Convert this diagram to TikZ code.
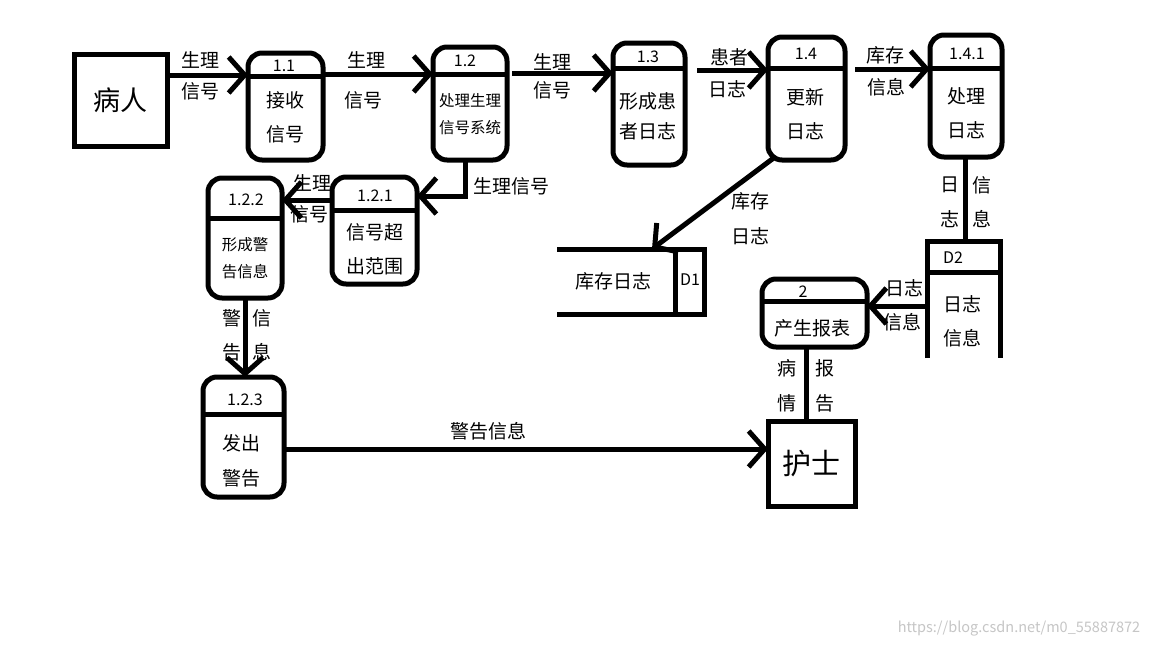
\documentclass[tikz,border=0pt]{standalone}
\usepackage{fontspec}
\setmainfont{Noto Sans CJK SC}
\usetikzlibrary{arrows.meta}
\tikzset{
  ln/.style={line width=5pt},
  arr/.style={line width=5pt,-{Straight Barb[length=16pt,width=36pt]}},
  proc/.style={draw,line width=5pt,rounded corners=14pt,inner sep=0pt,outer sep=0pt,anchor=north west},
  ext/.style={draw,line width=5pt,inner sep=0pt,outer sep=0pt,anchor=north west},
  lab/.style={font=\fontsize{19}{22}\selectfont,inner sep=0pt},
  sml/.style={font=\fontsize{15.5}{18}\selectfont,inner sep=0pt},
  num/.style={font=\fontsize{16}{18}\selectfont,inner sep=0pt},
}
\begin{document}
\begin{tikzpicture}[x=1pt,y=-1pt]
\useasboundingbox[fill=white] (0,0) rectangle (1152,648);

% external entities
\node[ext,minimum width=93pt,minimum height=92pt] (bingren) at (74,54) {};
\node[font=\fontsize{27}{30}\selectfont,inner sep=0pt] (bingrent) at (bingren.center) {病人};
\node[ext,minimum width=87pt,minimum height=85pt] (hushi) at (768,421) {};
\node[font=\fontsize{29}{32}\selectfont,inner sep=0pt] (hushit) at (hushi.center) {护士};

% process 1.1
\node[proc,minimum width=75pt,minimum height=107pt] (p11) at (248,53) {};
\draw[ln] (p11.west |- 0,76) -- (p11.east |- 0,76);
\node[num] (p11n) at (284,66) {1.1};
\node[lab] (p11a) at (285,100) {接收};
\node[lab] (p11b) at (285,134) {信号};

% process 1.2
\node[proc,minimum width=74pt,minimum height=113pt] (p12) at (433,47) {};
\draw[ln] (p12.west |- 0,74) -- (p12.east |- 0,74);
\node[num] (p12n) at (465,61) {1.2};
\node[sml] (p12a) at (470,101) {处理生理};
\node[sml] (p12b) at (470,128) {信号系统};

% process 1.3
\node[proc,minimum width=72pt,minimum height=122pt] (p13) at (613,43) {};
\draw[ln] (p13.west |- 0,68) -- (p13.east |- 0,68);
\node[num] (p13n) at (648,57) {1.3};
\node[lab] (p13a) at (648,101) {形成患};
\node[lab] (p13b) at (648,131) {者日志};

% process 1.4
\node[proc,minimum width=77pt,minimum height=123pt] (p14) at (768,37) {};
\draw[ln] (p14.west |- 0,68) -- (p14.east |- 0,68);
\node[num] (p14n) at (806,54) {1.4};
\node[lab] (p14a) at (805,97) {更新};
\node[lab] (p14b) at (805,131) {日志};

% process 1.4.1
\node[proc,minimum width=72pt,minimum height=122pt] (p141) at (930,35) {};
\draw[ln] (p141.west |- 0,68) -- (p141.east |- 0,68);
\node[num] (p141n) at (967,54) {1.4.1};
\node[lab] (p141a) at (966,96) {处理};
\node[lab] (p141b) at (966,130) {日志};

% process 1.2.1
\node[proc,minimum width=85pt,minimum height=107pt] (p121) at (332,177) {};
\draw[ln] (p121.west |- 0,210) -- (p121.east |- 0,210);
\node[num] (p121n) at (375,196) {1.2.1};
\node[lab] (p121a) at (375,232) {信号超};
\node[lab] (p121b) at (375,266) {出范围};

% process 1.2.2
\node[proc,minimum width=74pt,minimum height=120pt] (p122) at (208,178) {};
\draw[ln] (p122.west |- 0,218) -- (p122.east |- 0,218);
\node[num] (p122n) at (246,200) {1.2.2};
\node[sml] (p122a) at (245,245) {形成警};
\node[sml] (p122b) at (245,272) {告信息};

% process 1.2.3
\node[proc,minimum width=81pt,minimum height=120pt] (p123) at (203,377) {};
\draw[ln] (p123.west |- 0,414) -- (p123.east |- 0,414);
\node[num] (p123n) at (245,400) {1.2.3};
\node[lab] (p123a) at (241,443) {发出};
\node[lab] (p123b) at (241,478) {警告};

% process 2
\node[proc,minimum width=105pt,minimum height=68pt] (p2) at (762,279) {};
\draw[ln] (p2.west |- 0,301) -- (p2.east |- 0,301);
\node[num] (p2n) at (803,292) {2};
\node[lab] (p2a) at (812,328) {产生报表};

% data store D1
\coordinate (d1tl) at (557,249);
\coordinate (d1tr) at (704,249);
\coordinate (d1bl) at (557,314);
\coordinate (d1br) at (704,314);
\coordinate (d1top) at (652,249);
\draw[ln] (d1tl) -- (d1tr) -- (d1br) -- (d1bl);
\draw[ln] (675,249) -- (675,314);
\node[lab] (d1t) at (613,281) {库存日志};
\node[num] (d1n) at (690,280) {D1};

% data store D2
\coordinate (d2bl) at (927,358);
\coordinate (d2tl) at (927,241);
\coordinate (d2tr) at (1000,241);
\coordinate (d2br) at (1000,358);
\coordinate (d2top) at (965,241);
\coordinate (d2left) at (927,306);
\draw[ln] (d2bl) -- (d2tl) -- (d2tr) -- (d2br);
\draw[ln] (927,272) -- (1000,272);
\node[num] (d2n) at (953,258) {D2};
\node[lab] (d2a) at (962,304) {日志};
\node[lab] (d2b) at (962,338) {信息};

% connectors
\draw[arr] (bingren.east |- 0,75) -- (p11.west |- 0,75);
\node[lab] (l1a) at (200,60) {生理};
\node[lab] (l1b) at (200,91) {信号};

\draw[arr] (p11.east |- 0,74) -- (p12.west |- 0,74);
\node[lab] (l2a) at (366,60) {生理};
\node[lab] (l2b) at (363,100) {信号};

\draw[arr,shorten <=5pt] (p12.east |- 0,73) -- (p13.west |- 0,73);
\node[lab] (l3a) at (552,62) {生理};
\node[lab] (l3b) at (552,90) {信号};

\draw[arr,shorten <=12pt] (p13.east |- 0,70) -- (p14.west |- 0,70);
\node[lab] (l4a) at (729,57) {患者};
\node[lab] (l4b) at (727,89) {日志};

\draw[arr,shorten <=10pt] (p14.east |- 0,69) -- (p141.west |- 0,69);
\node[lab] (l5a) at (885,55) {库存};
\node[lab] (l5b) at (886,87) {信息};

\draw[arr] (775,157) -- (d1top);
\node[lab] (l6a) at (750,201) {库存};
\node[lab] (l6b) at (750,236) {日志};

\draw[ln] (p141.south -| 965,0) -- (d2top);
\node[lab] (l7a) at (950,185) {日};
\node[lab] (l7b) at (950,219) {志};
\node[lab] (l7c) at (982,185) {信};
\node[lab] (l7d) at (982,219) {息};

\draw[arr] (d2left) -- (p2.east |- d2left);
\node[lab] (l8a) at (904,288) {日志};
\node[lab] (l8b) at (902,322) {信息};

\draw[ln] (p2.south -| 806,0) -- (hushi.north -| 806,0);
\node[lab] (l9a) at (787,368) {病};
\node[lab] (l9b) at (787,403) {情};
\node[lab] (l9c) at (825,368) {报};
\node[lab] (l9d) at (825,403) {告};

\draw[arr] (p12.south -| 465,0) -- (465,196) -- (p121.east |- 0,196);
\node[lab] (l10) at (511,186) {生理信号};

\draw[arr] (p121.west |- 0,200) -- (p122.east |- 0,200);
\node[lab] (l11a) at (312,183) {生理};
\node[lab] (l11b) at (309,214) {信号};

\draw[arr] (p122.south -| 245,0) -- (p123.north -| 245,0);
\node[lab] (l12a) at (232,318) {警};
\node[lab] (l12b) at (232,352) {告};
\node[lab] (l12c) at (262,318) {信};
\node[lab] (l12d) at (262,352) {息};

\draw[arr] (p123.east |- 0,449) -- (hushi.west |- 0,449);
\node[lab] (l13) at (488,431) {警告信息};

\node[font=\fontsize{14.5}{16}\selectfont,text=gray!45,inner sep=0pt] (wm) at (1019,629) {https://blog.csdn.net/m0\_55887872};
\end{tikzpicture}
\end{document}
